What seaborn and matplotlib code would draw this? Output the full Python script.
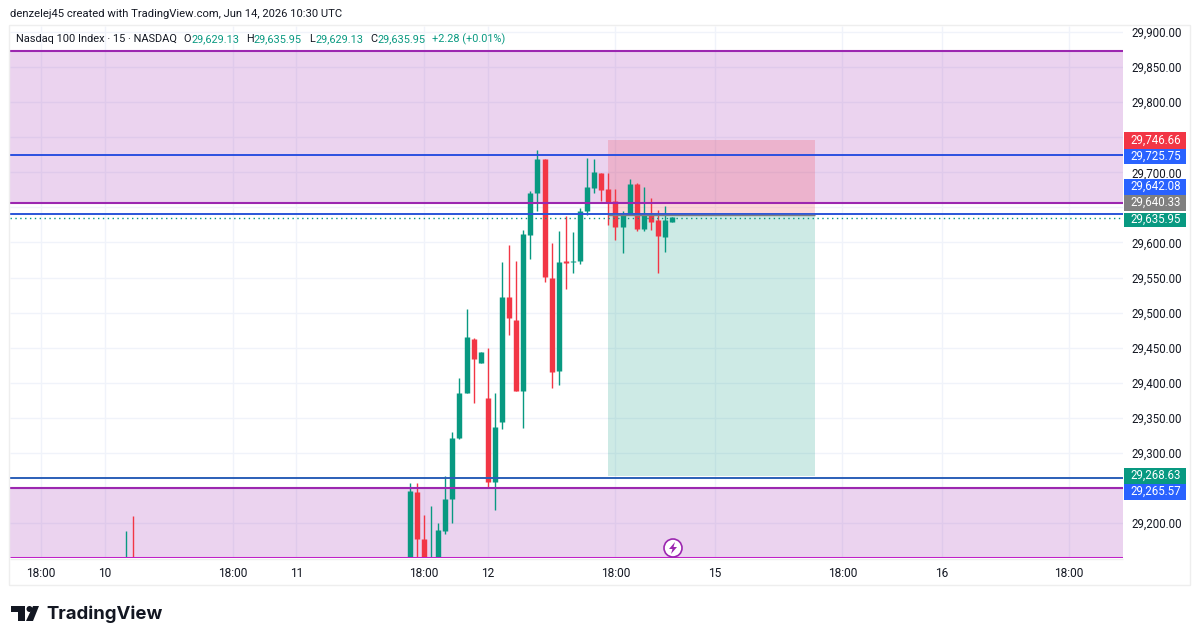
import pandas as pd
import numpy as np
import matplotlib.pyplot as plt
from matplotlib.patches import Rectangle, Polygon, Circle
from matplotlib.transforms import Affine2D
import seaborn as sns

bars = [-40, -39] + list(range(0, 38))
opens = [29120, 29130, 29120, 29244, 29177, 29130, 29130, 29188.6, 29234, 29320.7, 29386, 29463, 29427.6, 29378.6,
         29258, 29343.5, 29522.6, 29489, 29388.6, 29610.6, 29671, 29718.5, 29550, 29417, 29574, 29572, 29574,
         29645, 29677, 29699.6, 29675.7, 29659.5, 29622, 29639, 29684, 29618.7, 29639, 29632, 29608, 29629.13]
highs = [29188.6, 29210, 29257, 29257.5, 29211, 29224, 29200, 29267, 29330, 29406.6, 29505, 29464, 29444, 29449,
         29386, 29571.6, 29596, 29574, 29617.7, 29673.8, 29731.8, 29718.5, 29599.6, 29616.7, 29637.7, 29614.4,
         29648.6, 29720.8, 29718.5, 29699.6, 29698.5, 29675.7, 29644.8, 29690.4, 29685, 29679.4, 29663, 29646,
         29652, 29635.95]
lows = [29100, 29100, 29100, 29140, 29110, 29110, 29120, 29185, 29200, 29320, 29385, 29371, 29427.6, 29250,
        29218.5, 29334, 29468, 29388.6, 29336, 29576, 29645, 29544, 29393, 29396.7, 29533, 29557, 29569, 29639,
        29671, 29659, 29625, 29603, 29584.5, 29639, 29616.7, 29616, 29617.7, 29556, 29586.8, 29629.13]
closes = [29130, 29120, 29245.6, 29176.7, 29120, 29140, 29189.5, 29234.7, 29321.6, 29385, 29464.7, 29434, 29444,
          29258, 29337, 29522.6, 29492, 29388.6, 29611.6, 29671, 29718.5, 29551, 29415.7, 29572.6, 29570, 29574,
          29644.8, 29679.4, 29701, 29674.7, 29655.7, 29622, 29639, 29684, 29618.7, 29639, 29629.6, 29609, 29632,
          29635.95]

zones = [(29873, 29656), (29250, 29150)]
blue_levels = [29724.5, 29640.8, 29264.3]
blue_colors = ['#2b50e0', '#2b55d8', '#2b5fb8']
last_price = 29634.7
stop_price = 29746.66
entry_price = 29639
target_price = 29266.5
box_start = 28
box_end = 57.2

time_ticks = [-52, -43, -25, -16, 2, 11, 29, 43, 61, 75, 93]
time_labels = ['18:00', '10', '18:00', '11', '18:00', '12', '18:00', '15', '18:00', '16', '18:00']
grid_prices = list(range(29200, 29901, 50))
shown_prices = [29900, 29850, 29800, 29700, 29600, 29550, 29500, 29450, 29400, 29350, 29300, 29200]

tag_texts = ['29,746.66', '29,725.75', '29,642.08', '29,640.33', '29,635.95', '29,268.63', '29,265.57']
tag_colors = ['#f23645', '#2962ff', '#2962ff', '#808080', '#089981', '#089981', '#2962ff']
tag_rows = [(132, 148.5), (148.5, 164), (179, 194.5), (194.5, 210.5), (212.5, 227), (468, 483.5), (483.5, 500)]

GREEN = '#089981'
RED = '#f23645'
PURPLE = '#9c27b0'
GRID = '#f0f3fa'
INK = '#131722'

sns.set_style('white')
plt.rcParams['font.family'] = ['Roboto', 'DejaVu Sans']
plt.rcParams['lines.solid_capstyle'] = 'butt'

candles = pd.DataFrame({'bar': bars, 'open': opens, 'high': highs, 'low': lows, 'close': closes})
candles['side'] = np.where(candles['close'] >= candles['open'], 'up', 'down')
wicks = candles.melt(id_vars=['bar', 'side'], value_vars=['low', 'high'], value_name='price')
bodies = candles.melt(id_vars=['bar', 'side'], value_vars=['open', 'close'], value_name='price')
palette = {'up': GREEN, 'down': RED}

fig = plt.figure(figsize=(12, 6.42), dpi=100, facecolor='white')
px = Affine2D().scale(1 / 1200, -1 / 642).translate(0, 1) + fig.transFigure
ax = fig.add_axes([10 / 1200, 1 - 558 / 642, 1113 / 1200, 532 / 642])

sns.lineplot(data=wicks, x='bar', y='price', units='bar', estimator=None, hue='side', palette=palette,
             linewidth=1.0, legend=False, sort=False, ax=ax, zorder=3)
sns.lineplot(data=bodies, x='bar', y='price', units='bar', estimator=None, hue='side', palette=palette,
             linewidth=3.9, legend=False, sort=False, ax=ax, zorder=3)

for top, bottom in zones:
    ax.axhspan(bottom, top, color=PURPLE, alpha=0.2, lw=0, zorder=1)
    ax.axhline(top, color=PURPLE, lw=1.5, zorder=4)
ax.axhline(zones[0][1], color=PURPLE, lw=1.5, zorder=4)
ax.axhline(zones[1][1], color='#c020c8', lw=2.2, zorder=4)

for level, color in zip(blue_levels, blue_colors):
    ax.axhline(level, color=color, lw=1.4, zorder=4)
ax.axhline(last_price, color=GREEN, lw=1, ls=(0, (1, 2.5)), zorder=4)

ax.fill_between([box_start, box_end], entry_price, stop_price, color=RED, alpha=0.2, lw=0, zorder=2)
ax.fill_between([box_start, box_end], target_price, entry_price, color=GREEN, alpha=0.2, lw=0, zorder=2)
ax.plot([box_start, box_end], [entry_price, entry_price], color='#808080', lw=1, zorder=4)

ax.set_xlim(-56.4, 100.6)
ax.set_ylim(29150.1, 29908.6)
ax.set_xticks(time_ticks)
ax.set_xticklabels(time_labels, fontsize=8.6, color=INK)
ax.set_yticks(grid_prices)
ax.yaxis.tick_right()
ax.set_yticklabels([f'{p:,.2f}' if p in shown_prices else '' for p in grid_prices], fontsize=8.3, color=INK)
ax.tick_params(axis='x', length=0, pad=6.5)
ax.tick_params(axis='y', length=0, pad=6)
ax.set_xlabel('')
ax.set_ylabel('')
ax.grid(True, color=GRID, lw=1)
ax.set_axisbelow(True)
for spine in ax.spines.values():
    spine.set_visible(False)

# frame round the chart, price scale and time scale
fig.add_artist(Rectangle((9, 25), 1181, 560, transform=px, fill=False, ec='#eeeeee', lw=1))
fig.add_artist(plt.Line2D([10, 1123], [558.5, 558.5], transform=px, color='#eeeeee', lw=1, zorder=0))

for text, color, (top, bottom) in zip(tag_texts, tag_colors, tag_rows):
    fig.add_artist(Rectangle((1124, top), 62, bottom - top, transform=px, fc=color, ec='none'))
    fig.text(1156, (top + bottom) / 2, text, transform=px, color='white', fontsize=8.3, ha='center', va='center')

fig.text(10, 14, 'denzelej45 created with TradingView.com, Jun 14, 2026 10:30 UTC', transform=px,
         fontsize=8.1, color=INK, va='center')
fig.text(16, 39, 'Nasdaq 100 Index · 15 · NASDAQ', transform=px, fontsize=7.9, color=INK, va='center')
legend_parts = [(183, 'O', INK), (191, '29,629.13', GREEN), (246, 'H', INK), (253, '29,635.95', GREEN),
                (309, 'L', INK), (315, '29,629.13', GREEN), (370, 'C', INK), (377, '29,635.95', GREEN),
                (432, '+2.28 (+0.01%)', GREEN)]
for x, text, color in legend_parts:
    fig.text(x, 39, text, transform=px, fontsize=7.8, color=color, va='center')

# session break marker
fig.add_artist(Circle((673, 548), 9, transform=px, fc='white', ec=PURPLE, lw=1.2, zorder=6))
fig.add_artist(Polygon([(675, 542), (669, 549), (672.5, 549), (671, 554), (677, 547), (673.5, 547)],
                       transform=px, fc=PURPLE, ec='none', zorder=7))

# logo
fig.add_artist(Polygon([(11, 606), (25, 606), (25, 621), (18, 621), (18, 612), (11, 612)], transform=px,
                       fc=INK, ec='none'))
fig.add_artist(Circle((29.5, 609), 3, transform=px, fc=INK, ec='none'))
fig.add_artist(Polygon([(33, 606), (39, 606), (33, 621), (26, 621)], transform=px, fc=INK, ec='none'))
fig.text(46, 614, 'TradingView', transform=px, fontsize=13.4, fontweight='bold', family=['Inter', 'DejaVu Sans'],
         color=INK, va='center')

fig.savefig('out.png', dpi=100)
